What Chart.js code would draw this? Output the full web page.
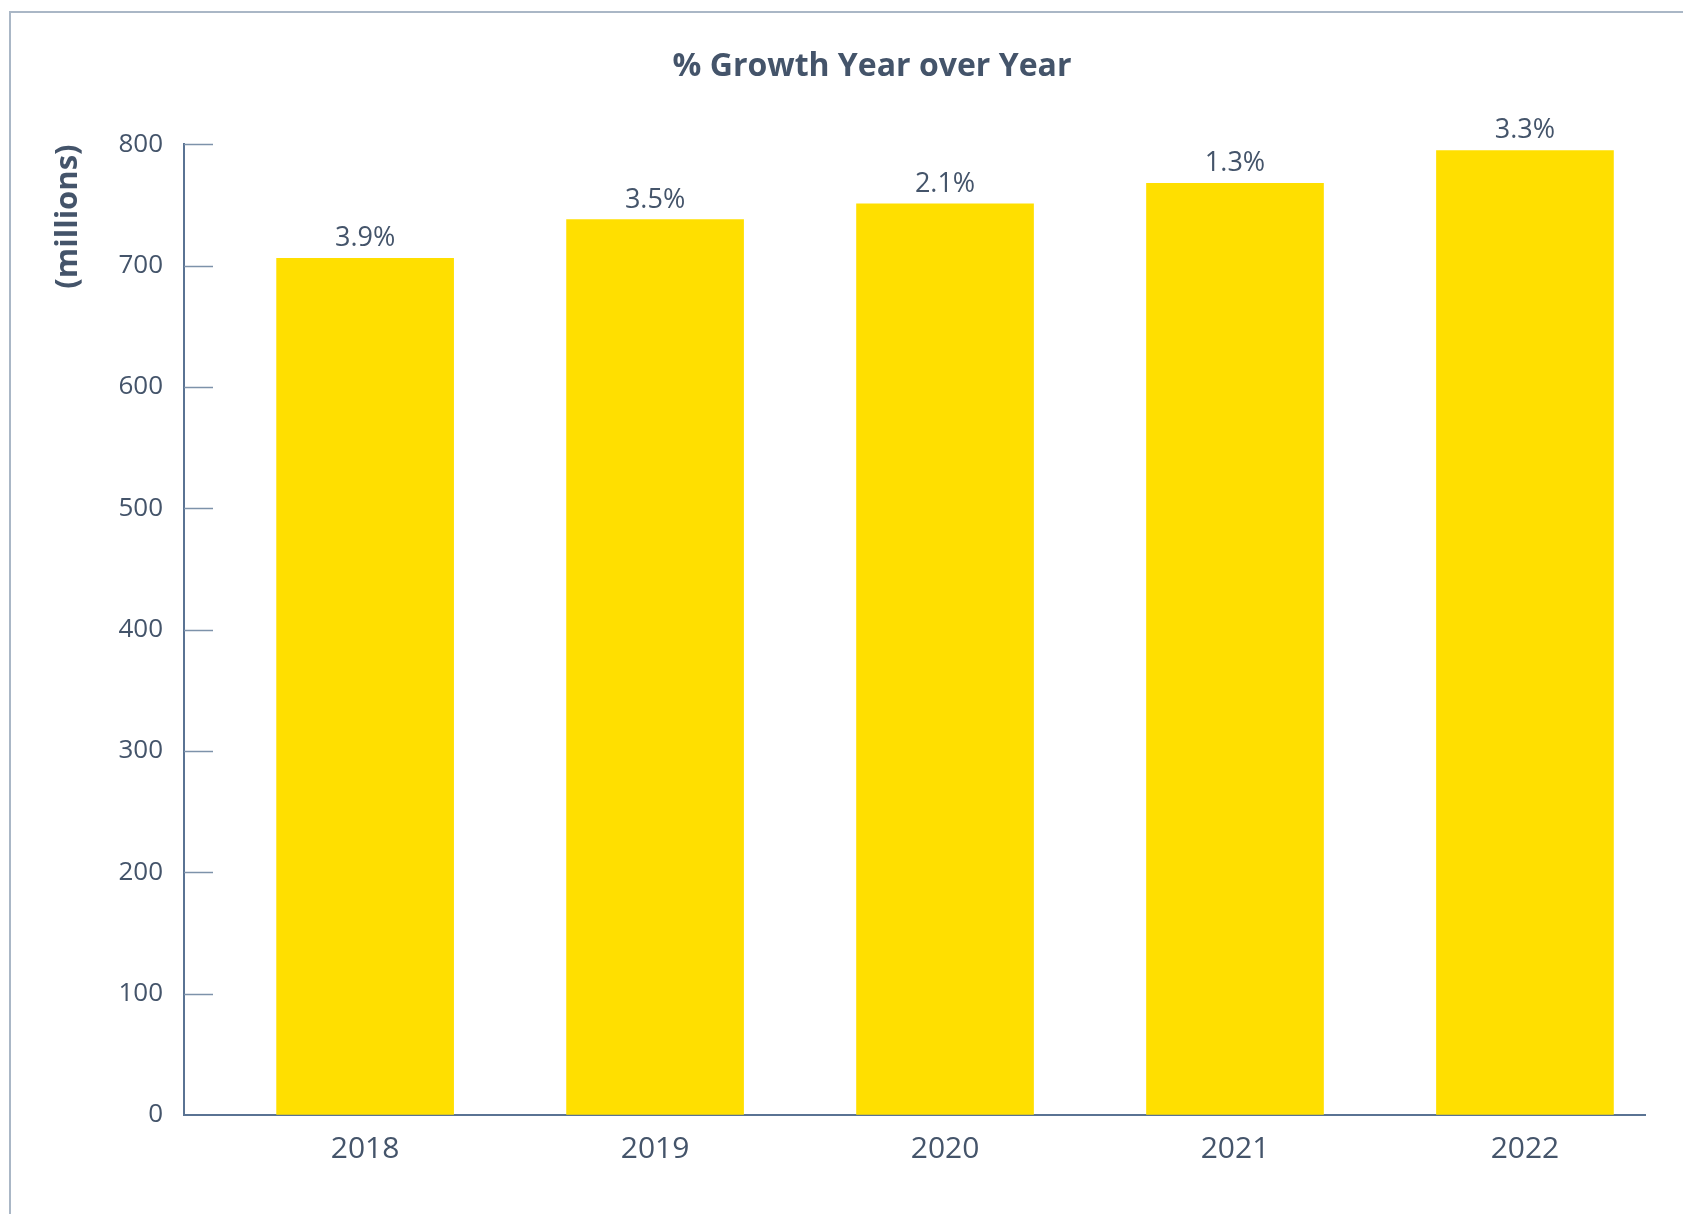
<!DOCTYPE html>
<html>
<head>
<meta charset="utf-8">
<script src="https://cdn.jsdelivr.net/npm/chart.js@4"></script>
<style>
  html, body { margin: 0; padding: 0; background: #fff; overflow: hidden; }
  #frame {
    position: absolute; left: 9px; top: 11px; right: -5px; bottom: -5px;
    border-top: 2px solid #aab7c6; border-left: 2px solid #aab7c6;
  }
  #chart-growth { position: absolute; left: 0; top: 0; }
</style>
</head>
<body>
<div id="frame"></div>
<canvas id="chart-growth" width="1683" height="1214"></canvas>
<script>
// values
var years = ['2018', '2019', '2020', '2021', '2022'];
var totals = [706, 738, 751, 768, 795];          // millions
var growth = ['3.9%', '3.5%', '2.1%', '1.3%', '3.3%'];
var yTicks = [0, 100, 200, 300, 400, 500, 600, 700, 800];
var chartTitle = '% Growth Year over Year';
var yTitle = '(millions)';

var textColor = '#44546a';
var axisColor = '#5a7393';
var tickColor = '#7d92aa';
var barColor = '#ffdf00';

var points = [];
for (let i = 0; i < years.length; i++) {
    points.push({ x: i, y: totals[i] });
}

// growth labels above each bar
var barLabels = {
    id: 'barLabels',
    afterDatasetsDraw: function (chart) {
        var ctx = chart.ctx;
        var meta = chart.getDatasetMeta(0);
        ctx.save();
        ctx.font = '27px "Open Sans"';
        ctx.fillStyle = textColor;
        ctx.textAlign = 'center';
        ctx.textBaseline = 'alphabetic';
        meta.data.forEach((bar, i) => {
            ctx.fillText(growth[i], bar.x, bar.y - 12);
        });
        ctx.restore();
    }
};

// tick marks pointing into the plot, as in the original
var innerTicks = {
    id: 'innerTicks',
    afterDraw: function (chart) {
        var ctx = chart.ctx;
        var y = chart.scales.y;
        var left = chart.chartArea.left;
        ctx.save();
        ctx.strokeStyle = tickColor;
        ctx.lineWidth = 1.5;
        y.ticks.forEach(t => {
            if (t.value === 0) return;
            var py = Math.round(y.getPixelForValue(t.value)) + 0.5;
            ctx.beginPath();
            ctx.moveTo(left, py);
            ctx.lineTo(left + 29, py);
            ctx.stroke();
        });
        ctx.restore();
    }
};

// the title in the original sits a little right of the page centre
var shiftTitle = {
    id: 'shiftTitle',
    afterLayout: function (chart) {
        if (chart.titleBlock) {
            chart.titleBlock.left = 100;
            chart.titleBlock.right = 1644;
        }
    }
};

var ctx = document.getElementById('chart-growth').getContext('2d');
var growthChart = new Chart(ctx, {
    type: 'bar',
    data: {
        datasets: [{
            label: 'Total',
            data: points,
            backgroundColor: barColor,
            borderWidth: 0,
            barThickness: 177
        }]
    },
    plugins: [barLabels, innerTicks, shiftTitle],
    options: {
        responsive: false,
        animation: false,
        devicePixelRatio: 1,
        layout: { padding: { left: 40, right: 38, top: 0, bottom: 0 } },
        plugins: {
            legend: { display: false },
            tooltip: { enabled: false },
            title: {
                display: true,
                text: chartTitle,
                color: textColor,
                font: { family: 'Open Sans', size: 32, weight: 'bold' },
                padding: { top: 48, bottom: 58 }
            }
        },
        scales: {
            x: {
                type: 'linear',
                offset: false,
                min: -0.6246,
                max: 4.414,
                grid: { display: false, drawTicks: false, offset: false },
                border: { display: true, color: axisColor, width: 2 },
                afterBuildTicks: function (scale) {
                    scale.ticks = years.map((_, i) => ({ value: i }));
                },
                afterFit: function (scale) {
                    scale.height = 99;
                },
                ticks: {
                    color: textColor,
                    font: { family: 'Open Sans', size: 30 },
                    padding: 16,
                    autoSkip: false,
                    maxRotation: 0,
                    callback: function (value) {
                        return years[value];
                    }
                }
            },
            y: {
                min: 0,
                max: 800,
                grid: { drawOnChartArea: false, drawTicks: false },
                border: { display: true, color: axisColor, width: 2 },
                afterBuildTicks: function (scale) {
                    scale.ticks = yTicks.map(v => ({ value: v }));
                },
                afterFit: function (scale) {
                    scale.width = 144;
                },
                ticks: {
                    color: textColor,
                    font: { family: 'Open Sans', size: 26 },
                    padding: 21
                },
                title: {
                    display: true,
                    text: yTitle,
                    align: 'end',
                    color: textColor,
                    font: { family: 'Open Sans', size: 31, weight: 'bold' },
                    padding: { top: 10, bottom: 0 }
                }
            }
        }
    }
});
</script>
</body>
</html>
